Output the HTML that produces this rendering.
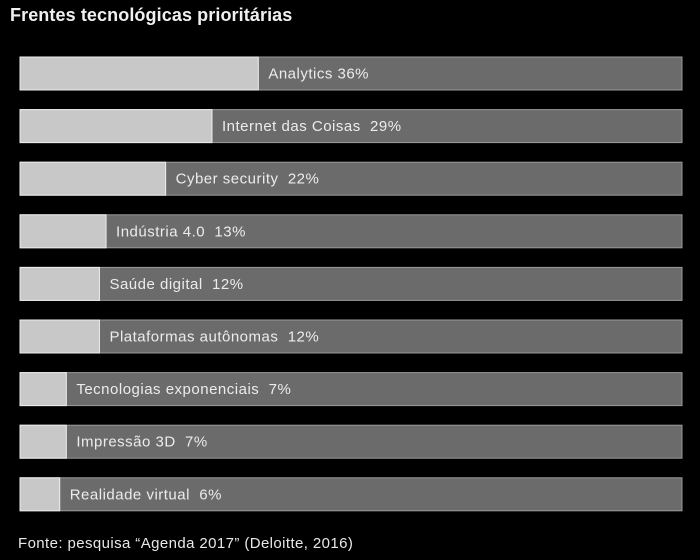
<!DOCTYPE html>
<html><head><meta charset="utf-8"><style>
body{margin:0;background:#000;width:700px;height:560px;overflow:hidden;font-family:"Liberation Sans",sans-serif;}
#title{position:absolute;left:10px;top:5px;color:#f0f0f0;font-size:18px;font-weight:bold;letter-spacing:0.1px;}
#src{position:absolute;left:18px;top:535px;color:#e8e8e8;font-size:15px;letter-spacing:0.4px;}
</style></head><body>
<div id="title">Frentes tecnológicas prioritárias</div>
<svg id="chart" width="700" height="560" style="position:absolute;left:0;top:0"></svg>
<div id="src">Fonte: pesquisa “Agenda 2017” (Deloitte, 2016)</div>
<script>
const categories=["Analytics","Internet das Coisas","Cyber security","Indústria 4.0","Saúde digital","Plataformas autônomas","Tecnologias exponenciais","Impressão 3D","Realidade virtual"];
const values=[36,29,22,13,12,12,7,7,6];
const labels=["Analytics 36%","Internet das Coisas  29%","Cyber security  22%","Indústria 4.0  13%","Saúde digital  12%","Plataformas autônomas  12%","Tecnologias exponenciais  7%","Impressão 3D  7%","Realidade virtual  6%"];
const svg=document.getElementById('chart');
const NS="http://www.w3.org/2000/svg";
const x0=20,x1=682;
const xs=v=>x0+(x1-x0)*v/100;
const ys=i=>57+i*52.6;
const bh=33;
categories.forEach((c,i)=>{
  const y=ys(i);
  const bg=document.createElementNS(NS,'rect');
  bg.setAttribute('x',x0);bg.setAttribute('y',y);bg.setAttribute('width',x1-x0);bg.setAttribute('height',bh);
  bg.setAttribute('fill','#6b6b6b');bg.setAttribute('stroke','#9a9a9a');bg.setAttribute('stroke-width','1');
  
  
  svg.appendChild(bg);
  const r=document.createElementNS(NS,'rect');
  r.setAttribute('x',x0);r.setAttribute('y',y);r.setAttribute('width',xs(values[i])-x0);r.setAttribute('height',bh);
  r.setAttribute('fill','#c8c8c8');r.setAttribute('stroke','#eeeeee');r.setAttribute('stroke-width','1');
  
  
  svg.appendChild(r);
  const t=document.createElementNS(NS,'text');
  t.setAttribute('x',xs(values[i])+10);t.setAttribute('y',y+bh/2+5);
  t.setAttribute('fill','#ececec');t.setAttribute('font-size','15');
  t.setAttribute('letter-spacing','0.5');
  t.setAttribute('font-family','Liberation Sans, sans-serif');
  t.style.whiteSpace='pre';
  t.textContent=labels[i];
  
  
  svg.appendChild(t);
});
</script>
</body></html>
